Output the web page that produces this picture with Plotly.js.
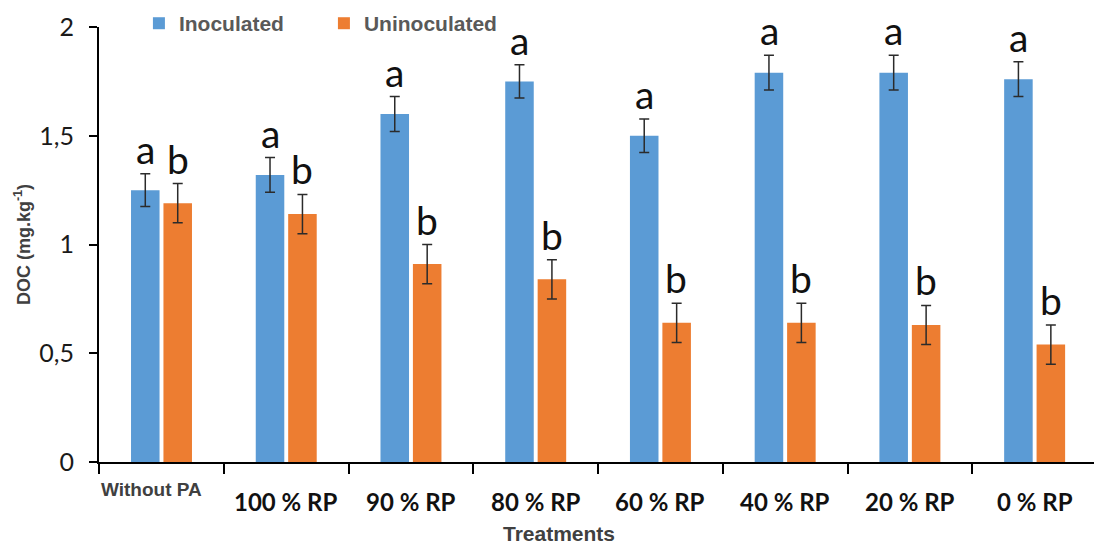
<!DOCTYPE html>
<html>
<head>
<meta charset="utf-8">
<script src="https://cdn.plot.ly/plotly-3.0.1.min.js"></script>
<style>
html, body { margin: 0; padding: 0; overflow: hidden; background: #fff; }
#chart { width: 1100px; height: 546px; }
</style>
</head>
<body>
<div id="chart"></div>
<script>
const categories = ['Without PA', '100 % RP', '90 % RP', '80 % RP', '60 % RP', '40 % RP', '20 % RP', '0 % RP'];
const inoculated = [1.25, 1.32, 1.60, 1.75, 1.50, 1.79, 1.79, 1.76];
const inoculatedErr = [0.075, 0.08, 0.08, 0.077, 0.077, 0.08, 0.08, 0.08];
const uninoculated = [1.19, 1.14, 0.91, 0.84, 0.64, 0.64, 0.63, 0.54];
const uninoculatedErr = [0.09, 0.09, 0.09, 0.09, 0.09, 0.09, 0.09, 0.09];
const lettersInoculated = ['a', 'a', 'a', 'a', 'a', 'a', 'a', 'a'];
const lettersUninoculated = ['b', 'b', 'b', 'b', 'b', 'b', 'b', 'b'];
const seriesNames = ['Inoculated', 'Uninoculated'];
const xTitle = 'Treatments';
const yTitle = 'DOC (mg.kg<sup>-1</sup>)';

const plotH = 438;
const errStyle = { type: 'data', visible: true, color: '#2b2b2b', thickness: 1.5, width: 5 };

const traces = [
  {
    type: 'bar', name: seriesNames[0], x: categories, y: inoculated,
    marker: { color: '#5B9BD5' },
    error_y: Object.assign({ array: inoculatedErr }, errStyle)
  },
  {
    type: 'bar', name: seriesNames[1], x: categories, y: uninoculated,
    marker: { color: '#ED7D31' },
    error_y: Object.assign({ array: uninoculatedErr }, errStyle)
  }
];

const annotations = [];
categories.forEach((c, i) => {
  if (i === 0) {
    annotations.push({
      x: c, xref: 'x', yref: 'paper', y: -28 / plotH, yanchor: 'middle', xanchor: 'center',
      xshift: -10, text: c, showarrow: false,
      font: { family: 'Liberation Sans, Arial, sans-serif', size: 19, color: '#404040', weight: 'bold' }
    });
  } else {
    annotations.push({
      x: c, xref: 'x', yref: 'paper', y: -40 / plotH, yanchor: 'middle', xanchor: 'center',
      text: c, showarrow: false,
      font: { family: 'Lato, sans-serif', size: 24, color: '#111', weight: 'bold' }
    });
  }
  annotations.push({
    x: c, xref: 'x', y: inoculated[i] + inoculatedErr[i], yref: 'y', yanchor: 'bottom',
    xshift: -16, text: lettersInoculated[i], showarrow: false,
    font: { family: 'Lato, sans-serif', size: 39, color: '#111' }
  });
  annotations.push({
    x: c, xref: 'x', y: uninoculated[i] + uninoculatedErr[i], yref: 'y', yanchor: 'bottom',
    xshift: 16, text: lettersUninoculated[i], showarrow: false,
    font: { family: 'Lato, sans-serif', size: 39, color: '#111' }
  });
});
annotations.push({
  xref: 'paper', yref: 'paper', x: (559 - 99) / 998, y: -(534 - 462) / plotH,
  xanchor: 'center', yanchor: 'middle', text: xTitle, showarrow: false,
  font: { family: 'Liberation Sans, Arial, sans-serif', size: 21, color: '#404040', weight: 'bold' }
});

const layout = {
  width: 1100, height: 546,
  margin: { l: 99, r: 3, t: 24, b: 84 },
  paper_bgcolor: '#fff', plot_bgcolor: '#fff',
  separators: ', ',
  barmode: 'group', bargap: 0.48, bargroupgap: 0.12,
  showlegend: true,
  legend: {
    orientation: 'h', x: 0.04, xanchor: 'left', y: 1.055, yanchor: 'top',
    font: { family: 'Liberation Sans, Arial, sans-serif', size: 21, color: '#595959', weight: 'bold' },
    bgcolor: 'rgba(0,0,0,0)', entrywidth: 140, entrywidthmode: 'pixels'
  },
  xaxis: {
    type: 'category', showgrid: false, zeroline: false,
    showline: true, linecolor: '#000', linewidth: 2,
    ticks: 'outside', tickson: 'boundaries', ticklen: 10, tickwidth: 2, tickcolor: '#000',
    showticklabels: false
  },
  yaxis: {
    range: [0, 2], dtick: 0.5, tick0: 0, showgrid: false, zeroline: false,
    showline: true, linecolor: '#000', linewidth: 2,
    ticks: 'outside', ticklen: 8, tickwidth: 2, tickcolor: '#000',
    ticklabelstandoff: 10,
    tickfont: { family: 'Lato, sans-serif', size: 25, color: '#1a1a1a' },
    title: { text: yTitle, standoff: 4, font: { family: 'Liberation Sans, Arial, sans-serif', size: 18, color: '#404040', weight: 'bold' } }
  },
  annotations: annotations
};

Plotly.newPlot('chart', traces, layout, { displayModeBar: false, staticPlot: true });
</script>
</body>
</html>
